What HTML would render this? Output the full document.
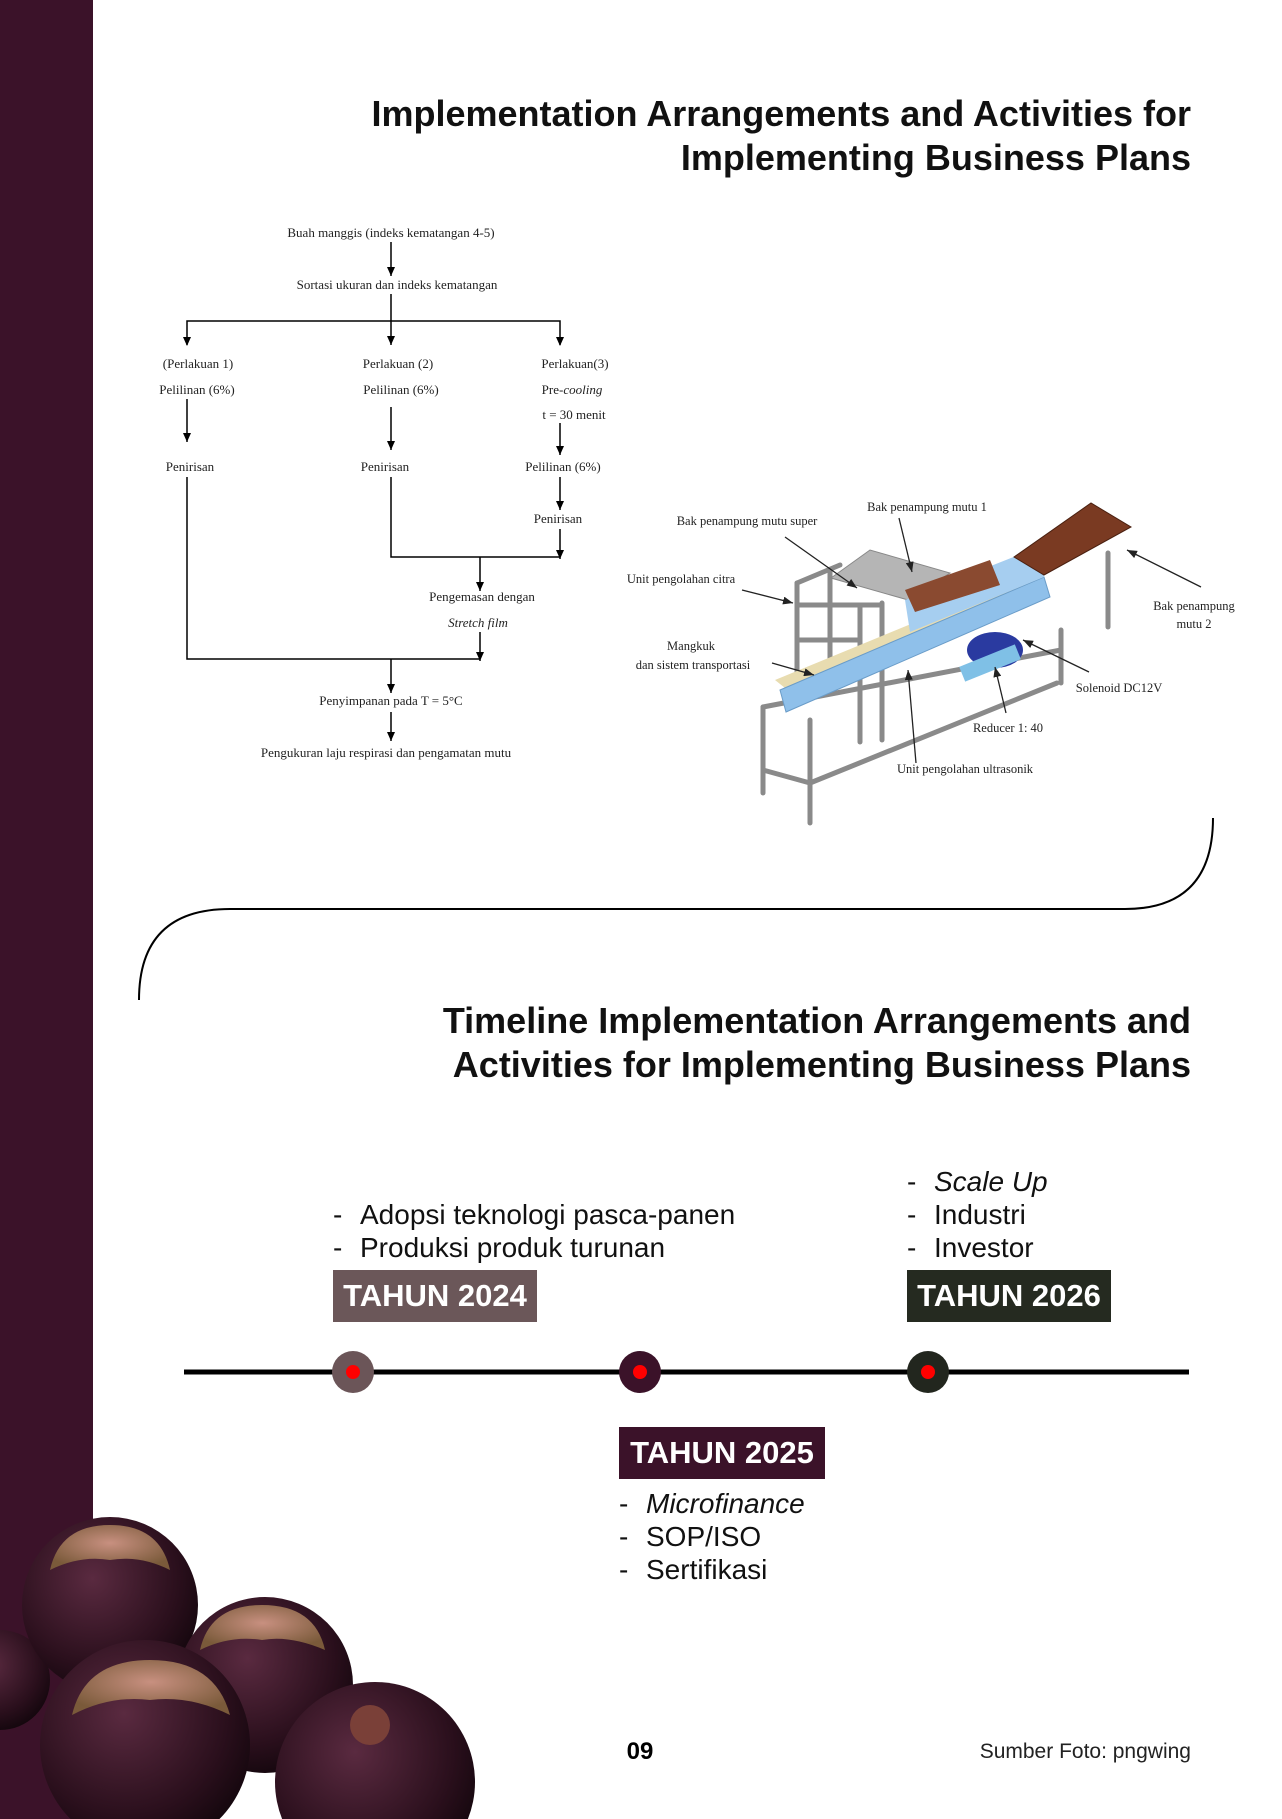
<!DOCTYPE html>
<html><head><meta charset="utf-8"><style>
html,body{margin:0;padding:0;}
body{width:1282px;height:1819px;position:relative;background:#fff;overflow:hidden;font-family:"Liberation Sans",sans-serif;}
.side{position:absolute;left:0;top:0;width:93px;height:1819px;background:#3b1229;}
.t{position:absolute;right:91px;text-align:right;font-weight:bold;font-size:36px;line-height:44px;color:#111;}
.box{position:absolute;height:52px;color:#fff;font-weight:bold;font-size:31px;line-height:52px;text-align:center;}
.bl{position:absolute;font-size:28px;line-height:33px;color:#111;}
.bl span{display:inline-block;width:27px;}
svg text{font-family:"Liberation Serif",serif;}
</style></head><body>
<div class="side"></div>
<div class="t" style="top:92px;">Implementation Arrangements and Activities for<br>Implementing Business Plans</div>
<div class="t" style="top:999px;">Timeline Implementation Arrangements and<br>Activities for Implementing Business Plans</div>

<svg width="1282" height="1819" style="position:absolute;left:0;top:0">
<defs>
<marker id="a" markerWidth="9" markerHeight="8" refX="9" refY="4" orient="auto" markerUnits="userSpaceOnUse"><path d="M0,0 L9,4 L0,8 Z" fill="#000"/></marker>
<marker id="b" markerWidth="10" markerHeight="8" refX="10" refY="4" orient="auto" markerUnits="userSpaceOnUse"><path d="M0,0 L10,4 L0,8 Z" fill="#222"/></marker>
<radialGradient id="f" cx="40%" cy="35%" r="70%"><stop offset="0" stop-color="#5a2a40"/><stop offset="0.7" stop-color="#2a0f1c"/><stop offset="1" stop-color="#12060c"/></radialGradient>
<radialGradient id="c" cx="50%" cy="40%" r="60%"><stop offset="0" stop-color="#c89080"/><stop offset="1" stop-color="#7a5a3a"/></radialGradient>
</defs>
<!-- flowchart -->
<g font-size="13" fill="#222" text-anchor="middle">
<text x="391" y="237">Buah manggis (indeks kematangan 4-5)</text>
<text x="397" y="289">Sortasi ukuran dan indeks kematangan</text>
<text x="198" y="368">(Perlakuan 1)</text>
<text x="197" y="394">Pelilinan (6%)</text>
<text x="398" y="368">Perlakuan (2)</text>
<text x="401" y="394">Pelilinan (6%)</text>
<text x="575" y="368">Perlakuan(3)</text>
<text x="572" y="394">Pre-<tspan font-style="italic">cooling</tspan></text>
<text x="574" y="419">t = 30 menit</text>
<text x="190" y="471">Penirisan</text>
<text x="385" y="471">Penirisan</text>
<text x="563" y="471">Pelilinan (6%)</text>
<text x="558" y="523">Penirisan</text>
<text x="482" y="601">Pengemasan dengan</text>
<text x="478" y="627" font-style="italic">Stretch film</text>
<text x="391" y="705">Penyimpanan pada T = 5°C</text>
<text x="386" y="757">Pengukuran laju respirasi dan pengamatan mutu</text>
</g>
<g stroke="#000" stroke-width="1.5" fill="none">
<line x1="391" y1="242" x2="391" y2="276" marker-end="url(#a)"/>
<line x1="391" y1="294" x2="391" y2="345" marker-end="url(#a)"/>
<polyline points="187,345 187,321 560,321 560,345" />
<path d="M183,337 L187,346 L191,337Z M556,337 L560,346 L564,337Z" fill="#000" stroke="none"/>
<line x1="187" y1="399" x2="187" y2="442" marker-end="url(#a)"/>
<line x1="391" y1="407" x2="391" y2="450" marker-end="url(#a)"/>
<line x1="560" y1="423" x2="560" y2="455" marker-end="url(#a)"/>
<line x1="560" y1="477" x2="560" y2="510" marker-end="url(#a)"/>
<line x1="560" y1="529" x2="560" y2="559" marker-end="url(#a)"/>
<polyline points="391,477 391,557 560,557"/>
<line x1="480" y1="557" x2="480" y2="591" marker-end="url(#a)"/>
<polyline points="187,477 187,659 480,659"/>
<line x1="480" y1="632" x2="480" y2="661" marker-end="url(#a)"/>
<line x1="391" y1="659" x2="391" y2="693" marker-end="url(#a)"/>
<line x1="391" y1="712" x2="391" y2="741" marker-end="url(#a)"/>
</g>
<!-- machine -->
<g stroke="#8a8a8a" stroke-width="5" fill="none" stroke-linecap="round">
<line x1="763" y1="707" x2="763" y2="793"/>
<line x1="810" y1="720" x2="810" y2="823"/>
<line x1="763" y1="707" x2="1061" y2="650"/>
<line x1="763" y1="770" x2="810" y2="783"/>
<line x1="810" y1="783" x2="1057" y2="683"/>
<line x1="1061" y1="630" x2="1061" y2="683"/>
<line x1="797" y1="583" x2="797" y2="700"/>
<line x1="830" y1="570" x2="830" y2="690"/>
<line x1="860" y1="605" x2="860" y2="742"/>
<line x1="882" y1="603" x2="882" y2="740"/>
<line x1="797" y1="583" x2="840" y2="565"/>
<line x1="797" y1="605" x2="882" y2="605"/>
<line x1="797" y1="640" x2="860" y2="640"/>
<line x1="1108" y1="553" x2="1108" y2="627"/>
</g>
<polygon points="831,578 870,550 950,573 908,600" fill="#b5b5b5" stroke="#888"/>
<polygon points="775,680 1030,575 1040,585 790,692" fill="#e8dcb0"/>
<polygon points="780,690 1044,577 1050,597 786,712" fill="#8fc0ea" stroke="#6a9cc8"/>
<polygon points="905,600 1044,545 1044,577 910,632" fill="#a6cef0"/>
<polygon points="905,590 990,560 1000,585 915,612" fill="#8a4a30"/>
<polygon points="1014,557 1091,503 1131,527 1044,575" fill="#7a3a22" stroke="#4a2010"/>
<ellipse cx="995" cy="650" rx="28" ry="18" fill="#2a3aa0"/>
<rect x="960" y="655" width="60" height="16" fill="#7fc0e6" transform="rotate(-22 990 663)"/>
<g font-size="12.5" fill="#222" text-anchor="middle">
<text x="747" y="525">Bak penampung mutu super</text>
<text x="927" y="511">Bak penampung mutu 1</text>
<text x="681" y="583">Unit pengolahan citra</text>
<text x="691" y="650">Mangkuk</text>
<text x="693" y="669">dan sistem transportasi</text>
<text x="1194" y="610">Bak penampung</text>
<text x="1194" y="628">mutu 2</text>
<text x="1119" y="692">Solenoid DC12V</text>
<text x="1008" y="732">Reducer 1: 40</text>
<text x="965" y="773">Unit pengolahan ultrasonik</text>
</g>
<g stroke="#222" stroke-width="1.3" marker-end="url(#b)">
<line x1="785" y1="537" x2="857" y2="588"/>
<line x1="899" y1="518" x2="912" y2="572"/>
<line x1="742" y1="590" x2="793" y2="603"/>
<line x1="772" y1="663" x2="814" y2="675"/>
<line x1="1201" y1="587" x2="1127" y2="550"/>
<line x1="1089" y1="672" x2="1023" y2="640"/>
<line x1="1006" y1="713" x2="995" y2="667"/>
<line x1="916" y1="763" x2="908" y2="670"/>
</g>
<!-- arc -->
<path d="M139,1000 Q139,909 230,909 L1125,909 Q1213,909 1213,818" fill="none" stroke="#000" stroke-width="2"/>
<!-- timeline -->
<line x1="184" y1="1372" x2="1189" y2="1372" stroke="#000" stroke-width="5"/>
<circle cx="353" cy="1372" r="21" fill="#6b5558"/><circle cx="353" cy="1372" r="7" fill="#f00"/>
<circle cx="640" cy="1372" r="21" fill="#3b1229"/><circle cx="640" cy="1372" r="7" fill="#f00"/>
<circle cx="928" cy="1372" r="21" fill="#22261e"/><circle cx="928" cy="1372" r="7" fill="#f00"/>
<!-- mangosteens -->
<circle cx="0" cy="1680" r="50" fill="url(#f)"/>
<circle cx="110" cy="1605" r="88" fill="url(#f)"/>
<path d="M50,1570 Q60,1525 110,1525 Q160,1525 170,1570 Q140,1555 110,1560 Q80,1555 50,1570Z" fill="url(#c)"/>
<circle cx="265" cy="1685" r="88" fill="url(#f)"/>
<path d="M200,1650 Q210,1605 262,1605 Q315,1605 325,1650 Q290,1635 262,1640 Q230,1635 200,1650Z" fill="url(#c)"/>
<circle cx="145" cy="1745" r="105" fill="url(#f)"/>
<path d="M72,1715 Q85,1660 150,1660 Q215,1660 230,1715 Q190,1695 150,1700 Q110,1695 72,1715Z" fill="url(#c)"/>
<circle cx="375" cy="1782" r="100" fill="url(#f)"/>
<circle cx="370" cy="1725" r="20" fill="#7a4038"/>
</svg>

<div class="bl" style="left:333px;top:1198px;"><span>-</span>Adopsi teknologi pasca-panen<br><span>-</span>Produksi produk turunan</div>
<div class="box" style="left:333px;top:1270px;width:204px;background:#6b5759;">TAHUN 2024</div>
<div class="bl" style="left:907px;top:1165px;"><span>-</span><i>Scale Up</i><br><span>-</span>Industri<br><span>-</span>Investor</div>
<div class="box" style="left:907px;top:1270px;width:204px;background:#252a20;">TAHUN 2026</div>
<div class="box" style="left:619px;top:1427px;width:206px;background:#3b1229;">TAHUN 2025</div>
<div class="bl" style="left:619px;top:1487px;"><span>-</span><i>Microfinance</i><br><span>-</span>SOP/ISO<br><span>-</span>Sertifikasi</div>
<div style="position:absolute;left:620px;top:1738px;width:40px;text-align:center;font-size:24px;font-weight:bold;">09</div>
<div style="position:absolute;right:91px;top:1740px;font-size:21px;color:#222;">Sumber Foto: pngwing</div>
</body></html>
